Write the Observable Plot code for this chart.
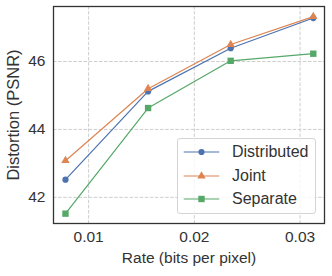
<!DOCTYPE html>
<html>
<head>
<meta charset="utf-8">
<script src="https://cdn.jsdelivr.net/npm/d3@7"></script>
<script src="https://cdn.jsdelivr.net/npm/@observablehq/plot@0.6"></script>
<style>
  html, body { margin: 0; padding: 0; background: #fff; }
  #wrap { position: relative; width: 332px; height: 276px; font-family: "Liberation Sans", sans-serif; color: #333; }
  #wrap svg.plot { position: absolute; left: 0; top: 0; }
  #legend { position: absolute; left: 177px; top: 138px; width: 139px; height: 76px;
    border: 1px solid #d4d4d4; border-radius: 3px; background: rgba(255,255,255,0.8); box-sizing: border-box; }
  .row { position: absolute; left: 0; height: 20px; display: flex; align-items: center; font-size: 16px; font-family: "Liberation Sans", sans-serif; color: #333; }
  .row svg { display: block; }
  .row span { margin-left: 12px; }
</style>
</head>
<body>
<div id="wrap"></div>
<script>
const rates = [0.0078125, 0.015625, 0.0234375, 0.03125];
const seriesNames = ["Distributed", "Joint", "Separate"];
const distributed = [42.52, 45.12, 46.39, 47.28];
const joint = [43.08, 45.20, 46.50, 47.32];
const separate = [41.52, 44.63, 46.02, 46.23];
const xTicks = [0.01, 0.02, 0.03];
const yTicks = [42, 44, 46];
const colors = ["#4C72B0", "#DD8452", "#55A868"];
const symbols = ["circle", "triangle", "square"];
const radii = [3.1, 3.1, 3.6];

const valuesBySeries = [distributed, joint, separate];
const data = [];
seriesNames.forEach((s, i) => rates.forEach((r, j) => data.push({series: s, rate: r, psnr: valuesBySeries[i][j]})));

const FONT = "'Liberation Sans', sans-serif";
const marks = [
  Plot.gridX(xTicks, {stroke: "#c8c8c8", strokeOpacity: 1, strokeWidth: 0.9, strokeDasharray: "3.5,1.6"}),
  Plot.gridY(yTicks, {stroke: "#c8c8c8", strokeOpacity: 1, strokeWidth: 0.9, strokeDasharray: "3.5,1.6"}),
  Plot.axisX(xTicks, {tickSize: 0, tickPadding: 7, fontSize: 15.5, fontFamily: FONT, tickFormat: d => d.toFixed(2),
    label: null, fill: "#333"}),
  Plot.axisY(yTicks, {tickSize: 0, tickPadding: 8, fontSize: 15.5, fontFamily: FONT, tickFormat: d => String(d),
    label: null, fill: "#333"}),
  Plot.axisX({anchor: "bottom", ticks: [], label: "Rate (bits per pixel)", labelArrow: "none", labelAnchor: "center",
    labelOffset: 39, fontSize: 15.5, fontFamily: FONT, fill: "#333"}),
  Plot.axisY({anchor: "left", ticks: [], label: "Distortion (PSNR)", labelArrow: "none", labelAnchor: "center",
    labelOffset: 46, fontSize: 16.5, fontFamily: FONT, fill: "#333"})
];
seriesNames.forEach((s, i) => {
  const d = data.filter(e => e.series === s);
  marks.push(Plot.line(d, {x: "rate", y: "psnr", stroke: colors[i], strokeWidth: 1.2}));
  marks.push(Plot.dot(d, {x: "rate", y: "psnr", fill: colors[i], symbol: symbols[i], r: radii[i]}));
});
marks.push(Plot.frame({stroke: "#333", strokeWidth: 1.3}));

const chart = Plot.plot({
  width: 332, height: 276,
  marginLeft: 53, marginTop: 6, marginRight: 8, marginBottom: 53,
  style: {fontFamily: FONT, fontSize: "15.5px", color: "#333", background: "transparent"},
  x: {domain: [0.00668, 0.03231]},
  y: {domain: [41.23, 47.62]},
  marks
});
chart.classList.add("plot");
const wrap = document.getElementById("wrap");
wrap.appendChild(chart);

const legend = document.createElement("div");
legend.id = "legend";
const rowTops = [2.7, 27, 50.3];
seriesNames.forEach((s, i) => {
  const row = document.createElement("div");
  row.className = "row";
  row.style.top = rowTops[i] + "px";
  const sym = d3.symbol(i === 0 ? d3.symbolCircle : i === 1 ? d3.symbolTriangle : d3.symbolSquare, Math.PI * radii[i] * radii[i])();
  row.innerHTML = `<svg width="42" height="20"><line x1="5.7" x2="41.3" y1="10" y2="10" stroke="${colors[i]}" stroke-width="1.2"/>` +
    `<path d="${sym}" transform="translate(23.5,10)" fill="${colors[i]}"/></svg><span>${s}</span>`;
  legend.appendChild(row);
});
wrap.appendChild(legend);
</script>
</body>
</html>
